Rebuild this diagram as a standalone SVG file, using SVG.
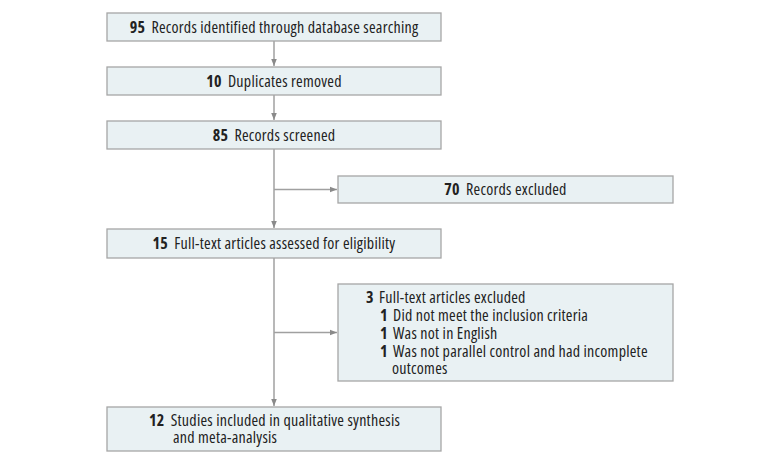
<svg xmlns="http://www.w3.org/2000/svg" width="780" height="465" viewBox="0 0 780 465">
<defs>
<marker id="ah" viewBox="0 0 10 10" refX="10" refY="5" markerWidth="7" markerHeight="7" markerUnits="userSpaceOnUse" orient="auto">
<path d="M0,1 L10,5 L0,9 z" fill="#8a8a8a"/>
</marker>
<style>
.box{fill:#e9f1f3;stroke:#a6a6a6;stroke-width:1.3}
.t{font-family:"Open Sans","Liberation Sans",sans-serif;font-stretch:86%;font-size:16px;letter-spacing:0.25px;fill:#222}
.b{font-weight:bold}
.c{text-anchor:middle}
.ln{stroke:#a0a0a0;stroke-width:1.5;fill:none}
</style>
</defs>
<rect width="780" height="465" fill="#fff"/>
<g id="connectors">
<path class="ln" d="M274,41 V66" marker-end="url(#ah)"/>
<path class="ln" d="M274,95 V120" marker-end="url(#ah)"/>
<path class="ln" d="M274,149 V228" marker-end="url(#ah)"/>
<path class="ln" d="M274,189.5 H337" marker-end="url(#ah)"/>
<path class="ln" d="M274,258 V406" marker-end="url(#ah)"/>
<path class="ln" d="M274,332.5 H337" marker-end="url(#ah)"/>
</g>
<g id="n1"><rect class="box" x="107" y="13" width="334" height="28"/>
<text class="t c" x="274" y="32.5"><tspan class="b">95</tspan> <tspan dx="3">Records identified through database searching</tspan></text></g>
<g id="n2"><rect class="box" x="107" y="67" width="334" height="28"/>
<text class="t c" x="274" y="86.5"><tspan class="b">10</tspan> <tspan dx="3">Duplicates removed</tspan></text></g>
<g id="n3"><rect class="box" x="107" y="121" width="334" height="28"/>
<text class="t c" x="274" y="140.5"><tspan class="b">85</tspan> <tspan dx="3">Records screened</tspan></text></g>
<g id="n4"><rect class="box" x="338" y="176" width="335" height="27"/>
<text class="t c" x="505.5" y="195"><tspan class="b">70</tspan> <tspan dx="3">Records excluded</tspan></text></g>
<g id="n5"><rect class="box" x="107" y="229" width="334" height="29"/>
<text class="t c" x="274" y="248.5"><tspan class="b">15</tspan> <tspan dx="3">Full-text articles assessed for eligibility</tspan></text></g>
<g id="n6"><rect class="box" x="338" y="284" width="335" height="97"/>
<text class="t" x="366" y="303"><tspan class="b">3</tspan> <tspan dx="2">Full-text articles excluded</tspan></text>
<text class="t" x="380" y="321"><tspan class="b">1</tspan> <tspan dx="2">Did not meet the inclusion criteria</tspan></text>
<text class="t" x="380" y="339"><tspan class="b">1</tspan> <tspan dx="2">Was not in English</tspan></text>
<text class="t" x="380" y="357"><tspan class="b">1</tspan> <tspan dx="2">Was not parallel control and had incomplete</tspan></text>
<text class="t" x="392" y="374">outcomes</text></g>
<g id="n7"><rect class="box" x="107" y="407" width="334" height="44"/>
<text class="t" x="149" y="426"><tspan class="b">12</tspan> <tspan dx="3">Studies included in qualitative synthesis</tspan></text>
<text class="t" x="173" y="443">and meta-analysis</text></g>
</svg>
